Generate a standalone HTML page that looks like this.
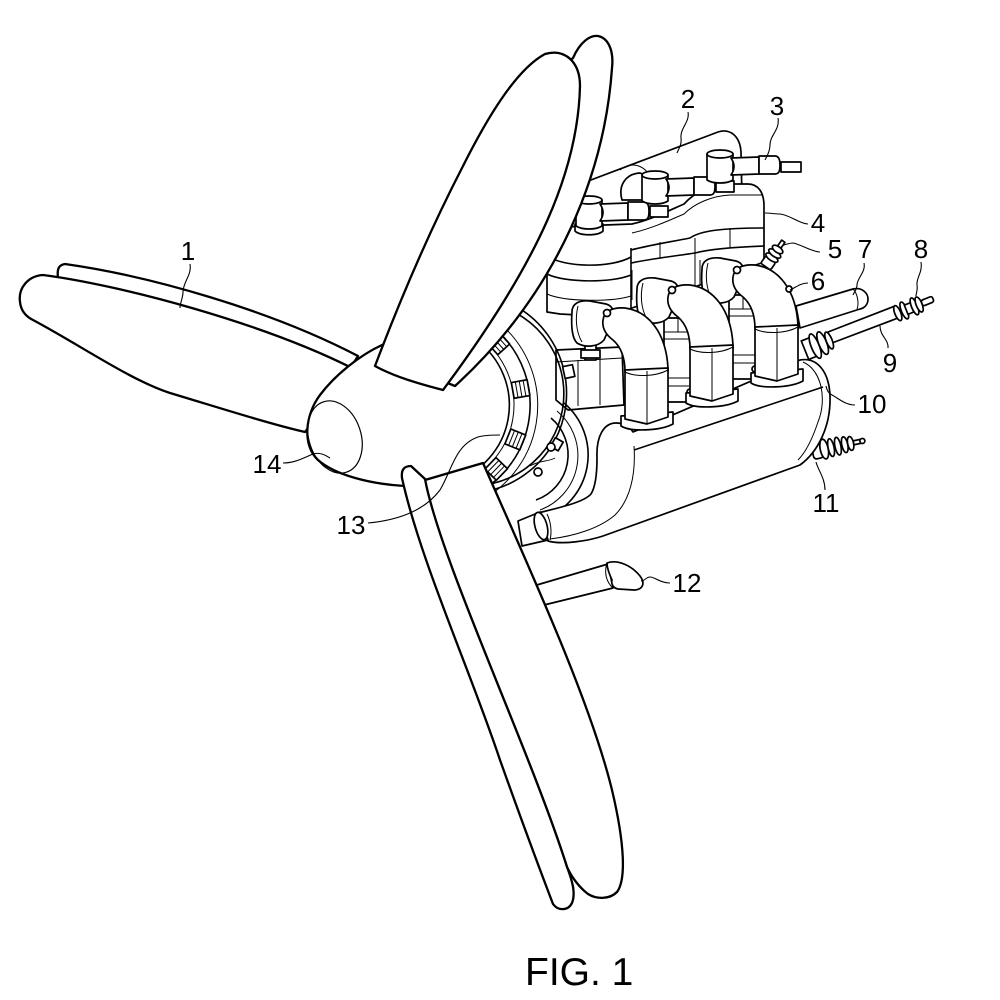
<!DOCTYPE html>
<html><head><meta charset="utf-8">
<style>
html,body{margin:0;padding:0;background:#fff;}
svg{display:block;}
.m{fill:#fff;stroke:#000;stroke-width:1.7;stroke-linejoin:round}
.b{fill:#fff;stroke:#000;stroke-width:2.3;stroke-linejoin:round}
.bs{fill:none;stroke:#000;stroke-width:2.3;stroke-linejoin:round;stroke-linecap:round}
.f{fill:#fff;stroke:none}
.t{fill:none;stroke:#000;stroke-width:1}
.n{fill:none;stroke:#000;stroke-width:1.6}
text{font-family:"Liberation Sans",Arial,sans-serif;font-size:26px;fill:#000}
</style></head>
<body>
<svg width="1000" height="1000" viewBox="0 0 1000 1000" xmlns="http://www.w3.org/2000/svg">

<!-- ========== ENGINE ========== -->
<!-- cover 2 -->
<path class="m" d="M 556,230 C 554,205 560,192 575,186 L 718,132 C 730,128 740,136 741,152 L 742,200 L 600,240 Z"/>
<path class="t" d="M 620,170 C 633,160 646,166 652,180"/>
<path class="t" d="M 562,215 C 566,205 572,200 582,198"/>

<!-- head 4 -->
<path class="m" d="M 547,312 L 547,250 C 547,236 558,228 578,226 L 632,224 C 650,220 668,211 684,204 C 695,192 710,185 728,184 L 748,184 C 758,184 764,192 764,206 L 764,262 L 700,285 L 632,308 C 615,314 590,316 560,314 Z"/>
<path class="t" d="M 632,233 C 650,229 668,221 684,214 C 695,203 712,196 730,195 L 763,195"/>
<path class="n" d="M 547,256 C 565,268 612,268 631,257"/>
<path class="n" d="M 547,274 C 565,283 612,283 631,275"/>
<path class="t" d="M 547,294 C 565,302 612,302 631,296"/>
<path class="n" d="M 631,248 L 631,310"/>
<path class="n" d="M 631,250 C 650,245 670,242 690,238 C 700,231 720,228 764,228"/>
<path class="n" d="M 631,263 C 650,259 675,256 695,253 C 710,249 735,247 764,246"/>
<path class="t" d="M 695,238 L 695,290"/>
<path class="t" d="M 660,242 L 660,258"/>
<path class="t" d="M 730,228 L 730,247"/>
<path class="t" d="M 632,270 L 632,300 M 700,260 L 700,285"/>

<!-- middle bump behind injector -->
<path class="m" d="M 622,200 C 618,186 625,174 640,173 L 645,175 L 645,200 Z"/>

<!-- injectors -->
<g>
<path class="m" d="M 575,224 L 575,231 C 580,236 598,236 603,231 L 603,224 Z"/>
<path class="m" d="M 576,200 L 576,226 C 582,230 596,230 602,226 L 602,200 Z"/>
<ellipse class="m" cx="589" cy="200" rx="13" ry="4"/>
<path class="m" d="M 600,204 L 628,203 L 628,220 L 600,221 C 604,215 604,210 600,204 Z"/>
<path class="m" d="M 628,202 L 644,202 C 648,202 649,206 649,211 C 649,217 648,220 644,220 L 628,220 Z"/>
<rect class="m" x="650" y="206" width="18" height="11"/>
</g>
<g transform="translate(66,-25)">
<path class="m" d="M 576,200 L 576,226 C 582,230 596,230 602,226 L 602,200 Z"/>
<ellipse class="m" cx="589" cy="200" rx="13" ry="4"/>
<path class="m" d="M 600,204 L 628,203 L 628,220 L 600,221 C 604,215 604,210 600,204 Z"/>
<path class="m" d="M 628,202 L 644,202 C 648,202 649,206 649,211 C 649,217 648,220 644,220 L 628,220 Z"/>
<rect class="m" x="650" y="206" width="18" height="11"/>
</g>
<g transform="translate(131,-46)">
<path class="m" d="M 576,200 L 576,226 C 582,230 596,230 602,226 L 602,200 Z"/>
<ellipse class="m" cx="589" cy="200" rx="13" ry="4"/>
<path class="m" d="M 600,204 L 628,203 L 628,220 L 600,221 C 604,215 604,210 600,204 Z"/>
<path class="m" d="M 628,202 L 644,202 C 648,202 649,206 649,211 C 649,217 648,220 644,220 L 628,220 Z"/>
<rect class="m" x="650" y="208" width="20" height="10"/>
</g>

<!-- block -->
<path class="m" d="M 556,350 L 622,347 L 624,405 L 568,410 L 556,400 Z"/>
<path class="t" d="M 578,360 L 578,406 M 600,358 L 600,405 M 556,362 L 622,358"/>
<rect class="m" x="585" y="340" width="11" height="20"/>
<rect class="m" x="581" y="350" width="19" height="8"/>

<!-- flywheel / hub 13 -->
<path class="n" d="M 485,295 A 100,100 0 0 1 459,493"/>
<path class="n" d="M 492,304 A 92,92 0 0 1 460,485"/>
<path class="t" d="M 506,329 A 108,108 0 0 1 476,503"/>
<path class="n" d="M 494,328 A 100,100 0 0 1 461,500"/>
<path class="t" d="M 478,336 A 84,84 0 0 1 452,486"/>
<path class="n" d="M 476,340 A 80,80 0 0 1 451,482"/>
<g transform="rotate(-42 430 405)"><rect class="m" x="514" y="397" width="16" height="16"/><path class="t" d="M 518,397 V 413 M 522,397 V 413 M 526,397 V 413"/></g>
<g transform="rotate(-10 430 405)"><rect class="m" x="514" y="397" width="16" height="16"/><path class="t" d="M 518,397 V 413 M 522,397 V 413 M 526,397 V 413"/></g>
<g transform="rotate(22 430 405)"><rect class="m" x="514" y="397" width="16" height="16"/><path class="t" d="M 518,397 V 413 M 522,397 V 413 M 526,397 V 413"/></g>
<g transform="rotate(44 430 405)"><rect class="m" x="514" y="397" width="16" height="16"/><path class="t" d="M 518,397 V 413 M 522,397 V 413 M 526,397 V 413"/></g>
<g transform="rotate(-64 468 393)"><rect class="m" x="566" y="387" width="12" height="12"/></g>
<g transform="rotate(-12 468 393)"><rect class="m" x="566" y="387" width="10" height="12"/></g>
<g transform="rotate(30 468 393)"><rect class="m" x="566" y="388" width="9" height="10"/></g>
<!-- pulley -->
<path class="n" d="M 551,418 A 48,48 0 0 1 536,500"/>
<path class="t" d="M 557,411 A 58,58 0 0 1 540,510"/>
<path class="n" d="M 564,403 A 68,68 0 0 1 543,519"/>
<circle class="m" cx="551" cy="447" r="4"/>
<circle class="m" cx="538" cy="472" r="4"/>
<path class="t" d="M 530,466 C 540,460 548,462 555,458"/>

<!-- rod 7, 9 -->
<path class="m" d="M 796,306 L 853,289 C 862,287 868,293 868,299 C 868,305 864,308 860,309 L 800,328 Z"/>
<path class="t" d="M 853,289 C 858,294 859,304 857,309"/>
<path class="m" d="M 828,332 L 895,306 L 898,318 L 832,343 Z"/>
<g transform="translate(908,309) rotate(-22)">
<ellipse class="m" cx="-11" cy="0" rx="3" ry="8"/>
<ellipse class="m" cx="-4" cy="0" rx="3" ry="9"/>
<rect class="m" x="-2" y="-5" width="8" height="10"/>
<ellipse class="m" cx="7" cy="0" rx="3" ry="9"/>
<ellipse class="m" cx="12" cy="0" rx="3" ry="8"/>
<rect class="m" x="15" y="-3" width="12" height="6" rx="2"/>
</g>
<g transform="translate(818,345) rotate(-22)">
<rect class="m" x="-14" y="-10" width="10" height="20"/>
<ellipse class="m" cx="-3" cy="0" rx="4" ry="13"/>
<ellipse class="m" cx="5" cy="0" rx="4" ry="12"/>
<ellipse class="m" cx="12" cy="0" rx="3" ry="9"/>
</g>
<!-- plug 5 -->
<g transform="translate(773,256) rotate(-55)">
<rect class="m" x="-13" y="-6" width="9" height="12" rx="2"/>
<ellipse class="m" cx="-2" cy="0" rx="3" ry="7"/>
<ellipse class="m" cx="3" cy="0" rx="3" ry="7"/>
<ellipse class="m" cx="8" cy="0" rx="3" ry="6"/>
<rect class="m" x="11" y="-2" width="7" height="4"/>
</g>
<!-- fitting 11 -->
<g transform="translate(834,447) rotate(-12)">
<rect class="m" x="-22" y="-8" width="10" height="16" rx="3"/>
<ellipse class="m" cx="-10" cy="0" rx="4" ry="10"/>
<ellipse class="m" cx="-3" cy="0" rx="3" ry="9"/>
<ellipse class="m" cx="4" cy="0" rx="3" ry="9"/>
<ellipse class="m" cx="11" cy="0" rx="3" ry="8"/>
<ellipse class="m" cx="17" cy="0" rx="3" ry="7"/>
<rect class="m" x="20" y="-2" width="8" height="4"/>
<circle class="m" cx="29" cy="0" r="2.5"/>
</g>

<!-- manifold 10 -->
<path class="m" d="M 597,458 C 596,436 604,423 616,423 C 624,423 630,427 633,432 L 800,360 C 816,357 829,370 830,396 C 831,426 818,452 800,465 L 603,536 C 588,541 562,545 548,541 L 538,513 C 562,507 584,502 591,494 C 596,486 597,472 597,458 Z"/>
<path class="t" d="M 634,446 C 636,475 630,500 615,515 C 600,528 575,536 550,539"/>
<path class="n" d="M 634,450 L 823,387"/>
<path class="t" d="M 803,362 C 822,370 827,400 818,422 C 812,440 806,452 798,460"/>
<!-- outlet -->
<path class="m" d="M 540,512 L 518,521 L 522,546 L 548,540 Z"/>
<ellipse class="m" cx="541" cy="526" rx="6" ry="14" transform="rotate(-15 541 526)"/>
<path class="t" d="M 547,514 C 551,522 552,532 550,540"/>

<!-- port blocks between pipes -->
<g>
<rect class="m" x="664" y="318" width="28" height="84"/>
<path class="t" d="M 664,332 H 692 M 664,339 H 692 M 664,378 H 692 M 664,386 H 692 M 678,318 V 332"/>
<circle class="m" cx="690" cy="392" r="3"/>
</g>
<g transform="translate(65,-23)">
<rect class="m" x="664" y="318" width="28" height="84"/>
<path class="t" d="M 664,332 H 692 M 664,339 H 692 M 664,378 H 692 M 664,386 H 692 M 678,318 V 332"/>
<circle class="m" cx="690" cy="392" r="3"/>
</g>

<!-- exhaust pipes 6 (right, middle, left) -->
<g transform="translate(130,-43)">
<path class="m" d="M 572,312 C 572,303 580,300 590,301 L 606,304 C 614,306 615,314 612,322 L 604,340 C 598,347 585,348 577,343 C 572,338 571,326 572,312 Z"/>
<path class="t" d="M 578,306 C 575,318 576,332 582,342"/>
<path class="m" d="M 603,320 C 604,311 613,307 625,308 C 648,311 666,332 668,368 L 668,372 L 625,372 C 625,357 621,347 613,340 C 605,334 602,327 603,320 Z"/>
<circle class="m" cx="607" cy="313" r="3.5"/>
<path class="m" d="M 621,416 L 621,426 C 630,432 660,431 673,424 L 673,412 Z"/>
<path class="m" d="M 625,370 L 668,368 L 668,417 L 647,424 L 625,419 Z"/>
<path class="t" d="M 647,371 L 647,424 M 625,372 C 635,377 655,377 668,370"/>
</g>
<g transform="translate(65,-23)">
<path class="m" d="M 572,312 C 572,303 580,300 590,301 L 606,304 C 614,306 615,314 612,322 L 604,340 C 598,347 585,348 577,343 C 572,338 571,326 572,312 Z"/>
<path class="t" d="M 578,306 C 575,318 576,332 582,342"/>
<path class="m" d="M 603,320 C 604,311 613,307 625,308 C 648,311 666,332 668,368 L 668,372 L 625,372 C 625,357 621,347 613,340 C 605,334 602,327 603,320 Z"/>
<circle class="m" cx="607" cy="313" r="3.5"/>
<path class="m" d="M 621,416 L 621,426 C 630,432 660,431 673,424 L 673,412 Z"/>
<path class="m" d="M 625,370 L 668,368 L 668,417 L 647,424 L 625,419 Z"/>
<path class="t" d="M 647,371 L 647,424 M 625,372 C 635,377 655,377 668,370"/>
</g>
<g>
<path class="m" d="M 572,312 C 572,303 580,300 590,301 L 606,304 C 614,306 615,314 612,322 L 604,340 C 598,347 585,348 577,343 C 572,338 571,326 572,312 Z"/>
<path class="t" d="M 578,306 C 575,318 576,332 582,342"/>
<path class="m" d="M 603,320 C 604,311 613,307 625,308 C 648,311 666,332 668,368 L 668,372 L 625,372 C 625,357 621,347 613,340 C 605,334 602,327 603,320 Z"/>
<circle class="m" cx="607" cy="313" r="3.5"/>
<path class="m" d="M 621,416 L 621,426 C 630,432 660,431 673,424 L 673,412 Z"/>
<path class="m" d="M 625,370 L 668,368 L 668,417 L 647,424 L 625,419 Z"/>
<path class="t" d="M 647,371 L 647,424 M 625,372 C 635,377 655,377 668,370"/>
</g>
<circle class="m" cx="789" cy="289" r="3"/>

<!-- lower pipe 12 -->
<path class="m" d="M 530,587 L 608,564 L 613,588 L 540,606 Z"/>
<path class="m" d="M 607,563 C 618,559 632,566 640,576 C 646,584 642,590 634,590 L 618,589 C 613,588 611,584 612,580 C 609,573 607,568 607,563 Z"/>
<path class="t" d="M 607,563 C 604,572 606,582 613,588"/>

<!-- ========== PROPELLER ========== -->
<!-- left blade back -->
<path class="b" d="M 58,278 C 57,270 58,265 65,264 C 150,276 270,310 358,356 L 340,385 L 70,300 Z"/>
<!-- left blade front -->
<path class="b" d="M 43,275 C 120,285 260,322 352,368 L 330,400 L 305,432 C 270,424 220,408 170,393 C 130,380 80,345 33,320 C 27,317 21,312 20,302 C 18,288 28,276 43,275 Z"/>

<!-- spinner 14 -->
<path class="f" d="M 382,345 C 360,355 335,375 320,395 C 305,415 302,445 318,460 C 335,475 370,484 405,486 L 432,483 L 446,392 L 375,366 Z"/>
<path class="bs" d="M 382,345 C 360,355 335,375 320,395 C 305,415 302,445 318,460 C 335,475 370,484 405,486"/>
<ellipse cx="335" cy="437" rx="26" ry="37" transform="rotate(-18 335 437)" fill="none" stroke="#000" stroke-width="1.2"/>

<!-- lower blade -->
<path class="b" d="M 425,480 L 483,463 C 530,570 590,700 612,790 C 625,845 626,880 617,892 C 609,900 596,899 588,894 C 580,888 572,878 567,867 C 530,750 440,560 425,480 Z"/>
<path class="b" d="M 402,478 C 401,470 404,466 411,466 L 425,479 C 440,560 530,750 567,867 C 572,880 576,893 572,903 C 568,911 558,911 553,904 C 540,870 525,830 500,760 C 470,670 420,560 402,478 Z"/>

<!-- top blade back -->
<path class="b" d="M 573,58 C 580,42 590,35 598,36 C 608,38 614,50 612,68 C 605,170 560,290 455,386 L 440,380 L 500,120 Z"/>
<!-- top blade front -->
<path class="b" d="M 375,366 C 400,300 430,230 462,168 C 485,122 515,70 545,54 C 565,48 580,62 580,86 C 578,170 540,260 443,390 C 420,384 395,377 375,366 Z"/>

<!-- ========== LEADERS ========== -->
<g fill="none" stroke="#000" stroke-width="1.1">
<path d="M 190,264 C 192,275 183,282 183,292 C 183,298 180,303 180,308"/>
<path d="M 688,112 C 690,122 680,128 681,138 C 682,145 678,150 677,153"/>
<path d="M 778,118 C 780,130 770,135 770,145 C 770,152 766,158 765,160"/>
<path d="M 808,224 C 800,224 790,215 780,214 C 775,214 770,213 765,213"/>
<path d="M 820,252 C 812,252 800,244 793,243 C 789,243 785,245 783,245"/>
<path d="M 808,283 C 800,283 795,288 790,290"/>
<path d="M 864,263 C 866,272 857,278 857,285 C 857,290 854,292 853,295"/>
<path d="M 921,262 C 923,272 916,278 917,285 C 918,290 916,293 916,296"/>
<path d="M 888,348 C 889,340 880,336 880,326"/>
<path d="M 855,405 C 845,405 838,398 832,395 C 828,393 827,390 826,386"/>
<path d="M 825,490 C 825,478 818,470 816,462"/>
<path d="M 670,583 C 660,583 655,577 650,577 C 646,577 645,581 641,581"/>
<path d="M 368,523 C 400,520 425,510 440,490 C 452,470 455,445 478,437 C 485,435 495,435 500,435"/>
<path d="M 283,463 C 295,463 303,458 313,454 C 320,452 325,455 330,458"/>
</g>

<!-- ========== LABELS ========== -->
<g text-anchor="middle">
<text x="188" y="260">1</text>
<text x="688" y="108">2</text>
<text x="777" y="115">3</text>
<text x="818" y="232">4</text>
<text x="835" y="258">5</text>
<text x="818" y="290">6</text>
<text x="865" y="258">7</text>
<text x="921" y="258">8</text>
<text x="890" y="372">9</text>
<text x="872" y="413">10</text>
<text x="826" y="512">11</text>
<text x="687" y="592">12</text>
<text x="351" y="534">13</text>
<text x="267" y="473">14</text>
</g>
<text x="525" y="985" style="font-size:39px">FIG. 1</text>
</svg>
</body></html>
